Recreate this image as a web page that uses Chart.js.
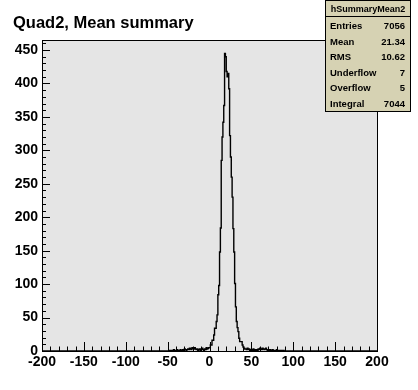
<!DOCTYPE html>
<html><head><meta charset="utf-8">
<script src="https://cdn.jsdelivr.net/npm/chart.js@4/dist/chart.umd.min.js"></script>
<style>html,body{margin:0;padding:0;background:#fff;}canvas{display:block}</style>
</head><body>
<canvas id="c" width="418" height="390"></canvas>
<script>
// ---- data ----
const chartTitle = "Quad2, Mean summary";
const binWidth = 1;
const xRange = [-200, 200];
const yMax = 465;

const leftTailStart = -48; // bins -48 .. -4
const leftTail = [1,0,1,0,1,2,0,1,1,2,1,0,1,2,1,1,2,1,3,2,1,2,3,2,4,3,2,5,4,3,5,3,2,3,1,2,3,1,2,4,2,1,3,2,5];

const peakStart = -3; // bins -3 .. 42
const peak = [3,4,5,5,9,9,16,16,24,34,34,44,54,84,98,148,184,285,320,342,367,445,440,418,410,415,392,322,290,260,230,183,148,101,66,44,35,29,19,14,14,14,9,6,4,3];

const rightTailStart = 43; // bins 43 .. 88
const rightTail = [3,2,4,2,3,1,2,2,1,3,1,2,1,2,1,3,2,4,3,2,4,3,2,3,4,2,1,2,1,2,1,1,2,0,1,1,0,2,1,0,1,1,0,1,0,1];

const xTicks = [-200,-150,-100,-50,0,50,100,150,200];
const yTicks = [0,50,100,150,200,250,300,350,400,450];

const statsName = "hSummaryMean2";
const statsLabels = ["Entries","Mean","RMS","Underflow","Overflow","Integral"];
const statsValues = ["7056","21.34","10.62","7","5","7044"];

// ---- build histogram step points ----
const points = [{x: xRange[0], y: 0}];
function addBins(start, arr){ arr.forEach((c,i)=>points.push({x: start + i*binWidth, y: c})); }
addBins(leftTailStart, leftTail);
addBins(peakStart, peak);
addBins(rightTailStart, rightTail);
points.push({x: rightTailStart + rightTail.length*binWidth, y: 0});
points.push({x: xRange[1], y: 0});

const FONT = '"Liberation Sans", Arial, Helvetica, sans-serif';

const decor = {
  id: 'decor',
  beforeDraw(chart){
    const {ctx, chartArea: a} = chart;
    ctx.save();
    ctx.fillStyle = '#fff';
    ctx.fillRect(0,0,chart.width,chart.height);
    ctx.fillStyle = '#e5e5e5';
    ctx.fillRect(a.left, a.top, a.right-a.left, a.bottom-a.top);
    ctx.restore();
  },
  afterDatasetsDraw(chart){
    const {ctx, chartArea: a, scales} = chart;
    ctx.save();
    ctx.strokeStyle = '#000';
    ctx.lineWidth = 1;
    ctx.beginPath();
    for (let v = xRange[0]; v <= xRange[1]; v += 10) {
      const px = Math.round(scales.x.getPixelForValue(v)) + 0.5;
      const len = (v % 50 === 0) ? 9 : 4.5;
      ctx.moveTo(px, a.bottom); ctx.lineTo(px, a.bottom - len);
    }
    for (let v = 0; v <= yMax; v += 10) {
      const py = Math.round(scales.y.getPixelForValue(v)) + 0.5;
      const len = (v % 50 === 0) ? 8 : 4;
      ctx.moveTo(a.left, py); ctx.lineTo(a.left + len, py);
    }
    ctx.stroke();
    ctx.strokeRect(Math.round(a.left)+0.5, Math.round(a.top)+0.5, Math.round(a.right-a.left), Math.round(a.bottom-a.top));
    ctx.restore();
  },
  afterDraw(chart){
    const {ctx} = chart;
    ctx.save();
    ctx.fillStyle = '#000';
    ctx.font = 'bold 16.5px ' + FONT;
    ctx.textBaseline = 'alphabetic';
    ctx.textAlign = 'left';
    ctx.fillText(chartTitle, 13, 28);
    const bx = 325.5, by = 0.5, bw = 85, bh = 111;
    ctx.fillStyle = '#d6d2b3';
    ctx.fillRect(bx, by, bw, bh);
    ctx.strokeStyle = '#000';
    ctx.lineWidth = 1;
    ctx.strokeRect(bx, by, bw, bh);
    ctx.beginPath(); ctx.moveTo(bx, 16.5); ctx.lineTo(bx+bw, 16.5); ctx.stroke();
    ctx.fillStyle = '#000';
    ctx.font = 'bold 9px ' + FONT;
    ctx.textAlign = 'center';
    ctx.fillText(statsName, bx + bw/2, 12);
    ctx.font = 'bold 9.5px ' + FONT;
    const rowH = 15.6;
    statsLabels.forEach((lab, i) => {
      const yb = 29 + i*rowH;
      ctx.textAlign = 'left';
      ctx.fillText(lab, 330, yb);
      ctx.textAlign = 'right';
      ctx.fillText(statsValues[i], 405, yb);
    });
    ctx.restore();
  }
};

new Chart(document.getElementById('c'), {
  type: 'line',
  data: { datasets: [{
    data: points,
    stepped: 'before',
    borderColor: '#000',
    borderWidth: 1.4,
    pointRadius: 0,
    fill: false,
    tension: 0
  }]},
  options: {
    responsive: false,
    animation: false,
    events: [],
    layout: { padding: { top: 40, right: 41, left: 0, bottom: 0 } },
    plugins: { legend: {display:false}, title:{display:false}, tooltip:{enabled:false} },
    scales: {
      x: {
        type: 'linear', min: xRange[0], max: xRange[1],
        afterBuildTicks: s => { s.ticks = xTicks.map(v => ({value: v})); },
        afterFit: s => { s.height = 39; },
        grid: { display: false, drawTicks: false },
        border: { display: false },
        ticks: { color: '#000', font: { family: FONT, weight: 'bold', size: 14 }, padding: 3, maxRotation: 0, autoSkip: false }
      },
      y: {
        type: 'linear', min: 0, max: yMax,
        afterBuildTicks: s => { s.ticks = yTicks.map(v => ({value: v})); },
        afterFit: s => { s.width = 42; },
        grid: { display: false, drawTicks: false },
        border: { display: false },
        ticks: { color: '#000', font: { family: FONT, weight: 'bold', size: 14 }, padding: 4, autoSkip: false }
      }
    }
  },
  plugins: [decor]
});
</script>
</body></html>
